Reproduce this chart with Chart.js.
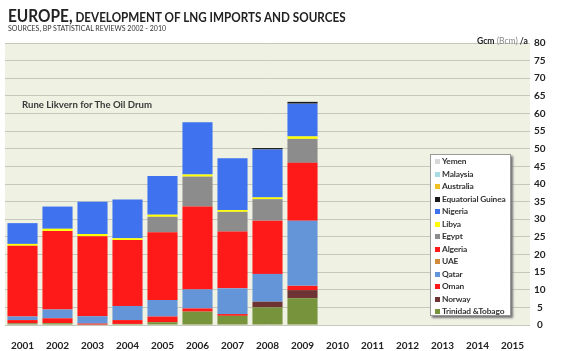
<!DOCTYPE html>
<html>
<head>
<meta charset="utf-8">
<script src="https://cdn.jsdelivr.net/npm/chart.js@4"></script>
<style>
  body { margin: 0; background: #fff; }
  #wrap { position: relative; width: 561px; height: 351px; overflow: hidden; font-family: Lato, "Open Sans", sans-serif; }
  #wrap canvas { position: absolute; left: 0; top: 0; }
  .txt { position: absolute; white-space: nowrap; color: #222; }
  #titre { left: 8px; top: 6px; font-weight: bold; font-size: 12.5px; font-family: Lato, sans-serif;
           transform: scaleX(0.935); transform-origin: left top; }
  #titre span { font-size: 16.5px; }
  #sous { left: 8px; top: 24px; font-size: 7px; color: #333; }
  #unite { left: 477px; top: 36px; font-size: 8.6px; font-weight: bold; }
  #unite i { font-style: normal; font-weight: normal; color: #888; }
  #auteur { left: 22px; top: 99px; font-size: 9.6px; font-weight: bold; color: #3a3a3a; }
  #legende { position: absolute; left: 430px; top: 154px; width: 79px; height: 160px; background: #fff;
             border: 1px solid #999; box-shadow: 2px 2px 2px #777; }
  #legende div { height: 12.5px; line-height: 12.5px; font-size: 8.4px; font-weight: bold; color: #333; padding-left: 4px;
                 white-space: nowrap; letter-spacing: -0.15px; }
  #legende b { display: inline-block; width: 5px; height: 5px; margin-right: 2px; vertical-align: 0px; }
</style>
</head>
<body>
<div id="wrap">
  <canvas id="grafico" width="561" height="351"></canvas>
  <div class="txt" id="titre"><span>EUROPE,</span> DEVELOPMENT OF LNG IMPORTS AND SOURCES</div>
  <div class="txt" id="sous">SOURCES, BP STATISTICAL REVIEWS 2002 - 2010</div>
  <div class="txt" id="unite">Gcm <i>(Bcm)</i> /a</div>
  <div class="txt" id="auteur">Rune Likvern for The Oil Drum</div>
  <div id="legende"></div>
</div>
<script>
// Anos (eixo x)
const anos = ['2001','2002','2003','2004','2005','2006','2007','2008','2009','2010','2011','2012','2013','2014','2015'];

// Importações de GNL por origem, Gcm/ano (2001 - 2009)
const trinidad  = [0.4, 0.5, 0.1, 0.3, 0.8, 3.8, 2.6, 5.0, 7.6];
const noruega   = [0.1, 0, 0, 0, 0, 0, 0, 1.6, 2.3];
const oma       = [0.9, 1.4, 0.3, 1.1, 1.6, 0.9, 0.5, 0, 1.2];
const qatar     = [1.0, 2.5, 2.1, 4.0, 4.7, 5.4, 7.3, 7.9, 18.5];
const eau       = [0, 0, 0, 0, 0, 0, 0, 0, 0];
const argelia   = [20.1, 22.3, 22.7, 18.7, 19.2, 23.5, 16.1, 15.1, 16.4];
const egito     = [0, 0, 0, 0, 4.4, 8.5, 5.6, 6.1, 6.8];
const libia     = [0.5, 0.6, 0.6, 0.5, 0.6, 0.6, 0.5, 0.5, 0.7];
const nigeria   = [5.9, 6.3, 9.2, 11.0, 11.0, 14.8, 14.7, 13.6, 9.3];
const guine     = [0, 0, 0, 0, 0, 0, 0, 0.4, 0.5];
const australia = [0, 0, 0, 0, 0, 0, 0, 0, 0];
const malasia   = [0, 0, 0, 0, 0, 0, 0, 0, 0];
const iemen     = [0, 0, 0, 0, 0, 0, 0, 0, 0];

// Marcas do eixo y
const yMin = 0, yMax = 80, yPasso = 5;

// Séries na ordem de empilhamento (de baixo para cima)
const series = [
    ['Trinidad &Tobago', trinidad, '#77933c'],
    ['Norway', noruega, '#6e3434'],
    ['Oman', oma, '#ff1a1a'],
    ['Qatar', qatar, '#6495d8'],
    ['UAE', eau, '#d08a3a'],
    ['Algeria', argelia, '#ff1a1a'],
    ['Egypt', egito, '#8c8c8c'],
    ['Libya', libia, '#ffff00'],
    ['Nigeria', nigeria, '#3f72ee'],
    ['Equatorial Guinea', guine, '#1a1a1a'],
    ['Australia', australia, '#f0c020'],
    ['Malaysia', malasia, '#a8dce4'],
    ['Yemen', iemen, '#d8d8d8']
];

// Fundo da área do gráfico
const fundoPlugin = {
    id: 'fundo',
    beforeDraw(chart) {
        const a = chart.chartArea, ctx = chart.ctx;
        ctx.save();
        ctx.fillStyle = '#eff1e3';
        ctx.fillRect(a.left, a.top, a.right - a.left, a.bottom - a.top);
        ctx.restore();
    }
};

const ctxGrafico = document.getElementById('grafico').getContext('2d');
const grafico = new Chart(ctxGrafico, {
    type: 'bar',
    data: {
        labels: anos,
        datasets: series.map(s => ({
            label: s[0],
            data: s[1],
            backgroundColor: s[2],
            borderWidth: 0,
            barPercentage: 0.86,
            categoryPercentage: 1
        }))
    },
    options: {
        responsive: false,
        animation: false,
        layout: { padding: { left: 5, top: 43, right: 0, bottom: 0 } },
        plugins: { legend: { display: false }, tooltip: { enabled: false } },
        scales: {
            x: {
                stacked: true,
                grid: { display: false },
                border: { display: false },
                ticks: { color: '#222', font: { family: 'Lato', size: 10, weight: 'bold' }, padding: 7 },
                afterFit(s) { s.height = 26; }
            },
            y: {
                stacked: true,
                position: 'right',
                min: yMin, max: yMax,
                grid: { color: '#c6c7bd', drawTicks: false },
                border: { display: false },
                ticks: { stepSize: yPasso, color: '#222', padding: 4, crossAlign: 'center',
                         font: { family: 'Lato', size: 10, weight: 'bold' } },
                afterFit(s) { s.width = 31; }
            }
        }
    },
    plugins: [fundoPlugin]
});

// Legenda (de cima para baixo: ordem inversa do empilhamento)
const legenda = document.getElementById('legende');
series.slice().reverse().forEach(s => {
    const item = document.createElement('div');
    item.innerHTML = '<b style="background:' + s[2] + '"></b>' + s[0];
    legenda.appendChild(item);
});
</script>
</body>
</html>
